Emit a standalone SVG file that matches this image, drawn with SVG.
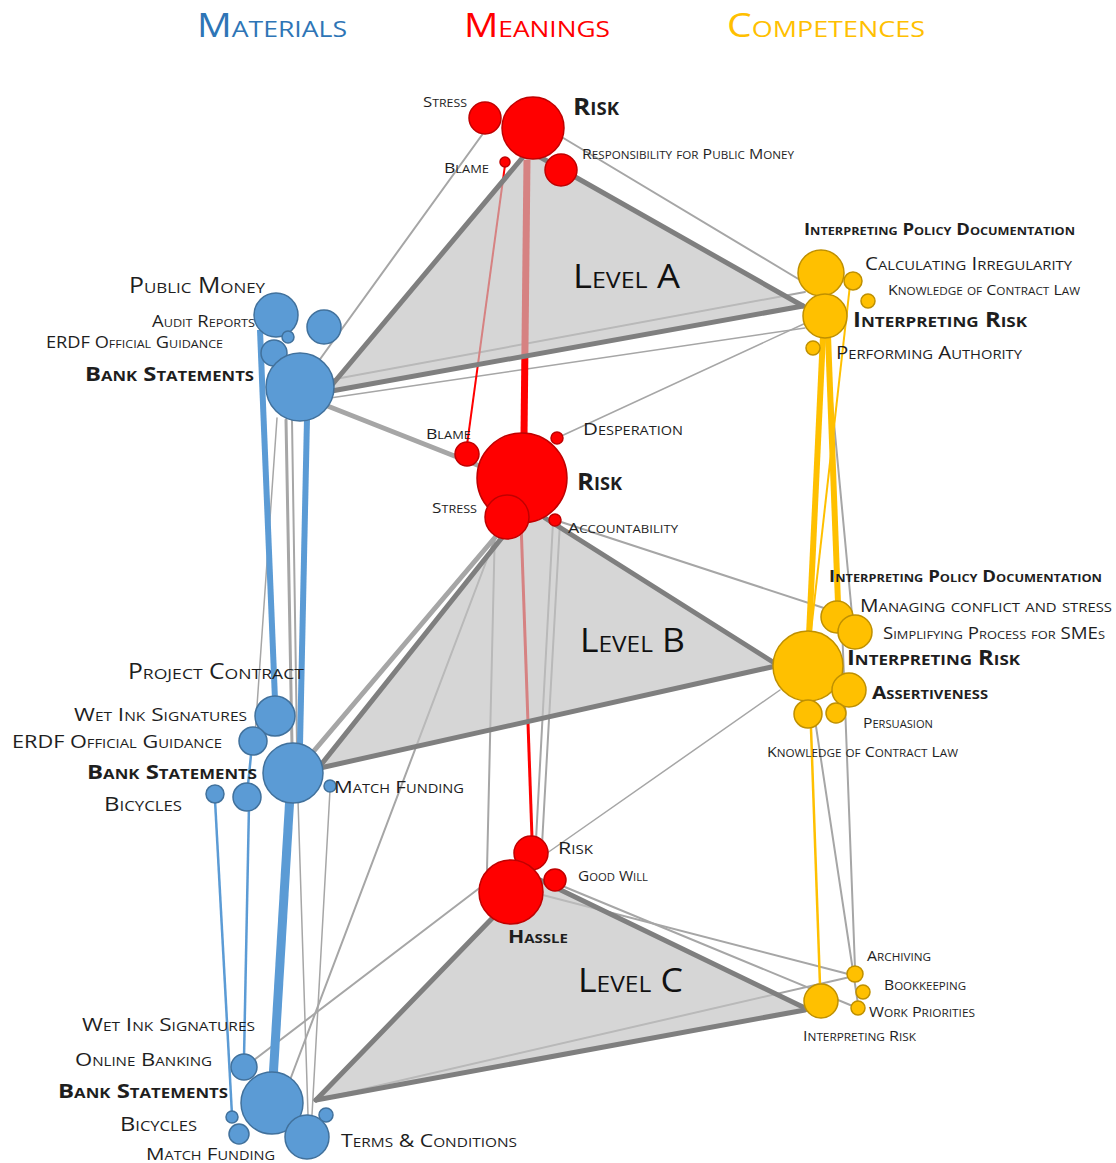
<svg xmlns="http://www.w3.org/2000/svg" width="1116" height="1163" viewBox="0 0 1116 1163">
<style>
text{font-family:"Open Sans","Liberation Sans",sans-serif;font-variant:small-caps;fill:#1e1e1e}
.b{font-weight:bold}
.hd{font-size:32px}
.lv{font-size:32px;fill:#111}
.bl{fill:#5b9bd5;stroke:#41719c;stroke-width:1.5}
.rd{fill:#ff0000;stroke:#c00000;stroke-width:1.5}
.yl{fill:#ffc000;stroke:#bf9000;stroke-width:1.5}
.lg{stroke:#a6a6a6;fill:none;stroke-linecap:round}
.dg{stroke:#7f7f7f;fill:none;stroke-linecap:round}
.bln{stroke:#5b9bd5;fill:none}
.rln{stroke:#ff0000;fill:none}
.yln{stroke:#ffc000;fill:none}
.tri{fill:#c2c2c2;fill-opacity:0.67;stroke:none}
</style>
<rect width="1116" height="1163" fill="#fff"/>

<g id="headers">
<text class="hd" x="197" y="37" textLength="150" lengthAdjust="spacingAndGlyphs" style="fill:#2e75b6">Materials</text>
<text class="hd" x="464" y="37" textLength="146" lengthAdjust="spacingAndGlyphs" style="fill:#ff0000">Meanings</text>
<text class="hd" x="727" y="37" textLength="198" lengthAdjust="spacingAndGlyphs" style="fill:#ffc000">Competences</text>
</g>

<g id="connectors">
<!-- gray lines -->
<line class="lg" stroke-width="2" x1="487" y1="128" x2="305" y2="380"/>
<line class="lg" stroke-width="2" x1="560" y1="136" x2="805" y2="283"/>
<line class="lg" stroke-width="2" x1="330" y1="380" x2="805" y2="292"/>
<line class="lg" stroke-width="1.5" x1="330" y1="398" x2="805" y2="328"/>
<line class="lg" stroke-width="1.5" x1="557" y1="438" x2="808" y2="322"/>
<line class="lg" stroke-width="5" x1="325" y1="405" x2="490" y2="470"/>
<line class="lg" stroke-width="2" x1="555" y1="520" x2="830" y2="610"/>
<line class="lg" stroke-width="1.5" x1="277" y1="418" x2="255" y2="735"/>
<line class="lg" stroke-width="3" x1="286" y1="420" x2="292" y2="745"/>
<line class="lg" stroke-width="2" x1="292" y1="420" x2="297" y2="745"/>
<line class="lg" stroke-width="1.5" x1="298" y1="800" x2="308" y2="1115"/>
<line class="lg" stroke-width="1.5" x1="330" y1="790" x2="312" y2="1115"/>
<line class="lg" stroke-width="2" x1="500" y1="525" x2="290" y2="1080"/>
<line class="lg" stroke-width="2" x1="495" y1="525" x2="487" y2="870"/>
<line class="lg" stroke-width="2" x1="553" y1="522" x2="536" y2="840"/>
<line class="lg" stroke-width="2" x1="560" y1="522" x2="542" y2="845"/>
<line class="lg" stroke-width="1.5" x1="780" y1="690" x2="540" y2="858"/>
<line class="lg" stroke-width="2" x1="826" y1="338" x2="853" y2="625"/>
<line class="lg" stroke-width="2" x1="842" y1="625" x2="855" y2="968"/>
<line class="lg" stroke-width="2" x1="812" y1="700" x2="858" y2="1004"/>
<line class="lg" stroke-width="2" x1="254" y1="1060" x2="490" y2="880"/>
<line class="lg" stroke-width="2" x1="535" y1="893" x2="852" y2="975"/>
<line class="lg" stroke-width="2" x1="560" y1="885" x2="855" y2="1007"/>
<line class="lg" stroke-width="2" x1="316" y1="1100" x2="850" y2="977"/>
<!-- red -->
<line class="rln" stroke-width="7" x1="527" y1="160" x2="524" y2="436"/>
<line class="rln" stroke-width="2" x1="505" y1="165" x2="467" y2="445"/>
<line class="rln" stroke-width="3" x1="521" y1="522" x2="532" y2="838"/>
<!-- yellow -->
<line class="yln" stroke-width="6" x1="823" y1="335" x2="809" y2="635"/>
<line class="yln" stroke-width="6" x1="828" y1="335" x2="838" y2="603"/>
<line class="yln" stroke-width="2" x1="850" y1="285" x2="810" y2="640"/>
<line class="yln" stroke-width="2.5" x1="810" y1="700" x2="820" y2="985"/>
<!-- blue -->
<line class="bln" stroke-width="6" x1="260" y1="330" x2="275" y2="700"/>
<line class="bln" stroke-width="6" x1="307" y1="418" x2="300" y2="745"/>
<line class="bln" stroke-width="9" x1="290" y1="795" x2="273" y2="1080"/>
<line class="bln" stroke-width="2.5" x1="215" y1="800" x2="232" y2="1115"/>
<line class="bln" stroke-width="2.5" x1="252" y1="745" x2="247" y2="795"/>
<line class="bln" stroke-width="2.5" x1="249" y1="805" x2="244" y2="1058"/>
</g>

<g id="triangles">
<polygon class="tri" points="523,157 540,157 803,306 326,392"/>
<polygon class="tri" points="512,525 545,518 776,664 320,768"/>
<polygon class="tri" points="505,905 540,880 805,1008 316,1100"/>
<line class="lg" stroke-width="5" x1="313" y1="752" x2="503" y2="528"/>
<g class="dg" stroke-width="5">
<line x1="326" y1="392" x2="523" y2="157"/>
<line x1="540" y1="157" x2="803" y2="306"/>
<line x1="326" y1="392" x2="803" y2="306"/>
<line x1="320" y1="766" x2="512" y2="525"/>
<line x1="545" y1="518" x2="776" y2="664"/>
<line x1="320" y1="768" x2="776" y2="666"/>
<line x1="316" y1="1100" x2="505" y2="905"/>
<line x1="540" y1="880" x2="805" y2="1008"/>
<line x1="316" y1="1100" x2="805" y2="1010"/>
</g>
<text class="lv" x="573" y="288" textLength="107" lengthAdjust="spacingAndGlyphs">Level A</text>
<text class="lv" x="580" y="652" textLength="105" lengthAdjust="spacingAndGlyphs">Level B</text>
<text class="lv" x="578" y="992" textLength="105" lengthAdjust="spacingAndGlyphs">Level C</text>
</g>

<!-- Meanings level A -->
<g id="m-a-stress"><circle class="rd" cx="485" cy="118" r="16"/><text x="423" y="107" font-size="15" textLength="44" lengthAdjust="spacingAndGlyphs">Stress</text></g>
<g id="m-a-risk"><circle class="rd" cx="533" cy="128" r="31"/><text class="b" x="573" y="115" font-size="24" textLength="46" lengthAdjust="spacingAndGlyphs">Risk</text></g>
<g id="m-a-blame"><circle class="rd" cx="505" cy="162" r="5"/><text x="444" y="173" font-size="15" textLength="45" lengthAdjust="spacingAndGlyphs">Blame</text></g>
<g id="m-a-resp"><circle class="rd" cx="561" cy="170" r="16"/><text x="582" y="159" font-size="15" textLength="212" lengthAdjust="spacingAndGlyphs">Responsibility for Public Money</text></g>

<!-- Competences level A -->
<g id="c-a-ipd"><circle class="yl" cx="821" cy="273" r="23"/><text class="b" x="804" y="235" font-size="16" textLength="271" lengthAdjust="spacingAndGlyphs">Interpreting  Policy Documentation</text></g>
<g id="c-a-calc"><circle class="yl" cx="853" cy="281" r="9"/><text x="865" y="270" font-size="18" textLength="207" lengthAdjust="spacingAndGlyphs">Calculating Irregularity</text></g>
<g id="c-a-kcl"><circle class="yl" cx="868" cy="301" r="7"/><text x="888" y="295" font-size="15" textLength="192" lengthAdjust="spacingAndGlyphs">Knowledge of Contract Law</text></g>
<g id="c-a-ir"><circle class="yl" cx="825" cy="316" r="22"/><text class="b" x="853" y="327" font-size="21" textLength="174" lengthAdjust="spacingAndGlyphs">Interpreting Risk</text></g>
<g id="c-a-pa"><circle class="yl" cx="813" cy="348" r="7"/><text x="836" y="359" font-size="18" textLength="186" lengthAdjust="spacingAndGlyphs">Performing Authority</text></g>

<!-- Materials level A -->
<g id="mat-a-pm"><circle class="bl" cx="276" cy="315" r="22"/><text x="129" y="293" font-size="22" textLength="136" lengthAdjust="spacingAndGlyphs">Public Money</text></g>
<g id="mat-a-ar"><circle class="bl" cx="288" cy="337" r="6"/><text x="152" y="327" font-size="16" textLength="103" lengthAdjust="spacingAndGlyphs">Audit Reports</text></g>
<g id="mat-a-x"><circle class="bl" cx="324" cy="327" r="17"/></g>
<g id="mat-a-erdf"><circle class="bl" cx="274" cy="353" r="13"/><text x="46" y="348" font-size="16" textLength="177" lengthAdjust="spacingAndGlyphs">ERDF Official Guidance</text></g>
<g id="mat-a-bs"><circle class="bl" cx="300" cy="387" r="34"/><text class="b" x="85" y="381" font-size="20" textLength="169" lengthAdjust="spacingAndGlyphs">Bank Statements</text></g>

<!-- Meanings level B -->
<g id="m-b-blame"><circle class="rd" cx="467" cy="454" r="12"/><text x="426" y="439" font-size="15" textLength="45" lengthAdjust="spacingAndGlyphs">Blame</text></g>
<g id="m-b-desp"><circle class="rd" cx="557" cy="438" r="6"/><text x="583" y="435" font-size="17" textLength="100" lengthAdjust="spacingAndGlyphs">Desperation</text></g>
<g id="m-b-risk"><circle class="rd" cx="522" cy="478" r="45"/><text class="b" x="577" y="490" font-size="24" textLength="45" lengthAdjust="spacingAndGlyphs">Risk</text></g>
<g id="m-b-stress"><circle class="rd" cx="507" cy="517" r="22"/><text x="432" y="513" font-size="15" textLength="45" lengthAdjust="spacingAndGlyphs">Stress</text></g>
<g id="m-b-acc"><circle class="rd" cx="555" cy="520" r="6"/><text x="568" y="533" font-size="15" textLength="110" lengthAdjust="spacingAndGlyphs">Accountability</text></g>

<!-- Competences level B -->
<g id="c-b-ipd"><text class="b" x="829" y="582" font-size="16" textLength="273" lengthAdjust="spacingAndGlyphs">Interpreting  Policy Documentation</text></g>
<g id="c-b-mcs"><circle class="yl" cx="837" cy="617" r="16"/><text x="860" y="612" font-size="18" textLength="252" lengthAdjust="spacingAndGlyphs">Managing conflict and stress</text></g>
<g id="c-b-sp"><circle class="yl" cx="855" cy="632" r="17"/><text x="883" y="639" font-size="16" textLength="222" lengthAdjust="spacingAndGlyphs">Simplifying Process for SMEs</text></g>
<g id="c-b-ir"><circle class="yl" cx="808" cy="666" r="35"/><text class="b" x="847" y="665" font-size="21" textLength="173" lengthAdjust="spacingAndGlyphs">Interpreting Risk</text></g>
<g id="c-b-as"><circle class="yl" cx="849" cy="690" r="17"/><text class="b" x="872" y="699" font-size="17" textLength="116" lengthAdjust="spacingAndGlyphs">Assertiveness</text></g>
<g id="c-b-kcl"><circle class="yl" cx="808" cy="714" r="14"/><text x="767" y="757" font-size="15" textLength="191" lengthAdjust="spacingAndGlyphs">Knowledge of Contract Law</text></g>
<g id="c-b-pe"><circle class="yl" cx="836" cy="713" r="10"/><text x="863" y="728" font-size="14" textLength="70" lengthAdjust="spacingAndGlyphs">Persuasion</text></g>

<!-- Materials level B -->
<g id="mat-b-pc"><text x="128" y="679" font-size="21" textLength="176" lengthAdjust="spacingAndGlyphs">Project Contract</text></g>
<g id="mat-b-wis"><circle class="bl" cx="275" cy="716" r="20"/><text x="74" y="721" font-size="19" textLength="173" lengthAdjust="spacingAndGlyphs">Wet Ink Signatures</text></g>
<g id="mat-b-erdf"><circle class="bl" cx="253" cy="741" r="14"/><text x="12" y="748" font-size="19" textLength="210" lengthAdjust="spacingAndGlyphs">ERDF Official Guidance</text></g>
<g id="mat-b-bs"><circle class="bl" cx="293" cy="773" r="30"/><text class="b" x="87" y="779" font-size="20" textLength="170" lengthAdjust="spacingAndGlyphs">Bank Statements</text></g>
<g id="mat-b-bi"><circle class="bl" cx="215" cy="794" r="9"/><circle class="bl" cx="247" cy="797" r="14"/><text x="104" y="811" font-size="20" textLength="78" lengthAdjust="spacingAndGlyphs">Bicycles</text></g>
<g id="mat-b-mf"><circle class="bl" cx="330" cy="786" r="6"/><text x="334" y="793" font-size="17" textLength="130" lengthAdjust="spacingAndGlyphs">Match Funding</text></g>

<!-- Meanings level C -->
<g id="m-c-risk"><circle class="rd" cx="531" cy="853" r="17"/><text x="558" y="854" font-size="17" textLength="35" lengthAdjust="spacingAndGlyphs">Risk</text></g>
<g id="m-c-gw"><circle class="rd" cx="555" cy="880" r="11"/><text x="578" y="881" font-size="15" textLength="70" lengthAdjust="spacingAndGlyphs">Good Will</text></g>
<g id="m-c-hassle"><circle class="rd" cx="511" cy="892" r="32"/><text class="b" x="508" y="943" font-size="17" textLength="60" lengthAdjust="spacingAndGlyphs">Hassle</text></g>

<!-- Competences level C -->
<g id="c-c-arch"><circle class="yl" cx="855" cy="974" r="8"/><text x="867" y="961" font-size="15" textLength="64" lengthAdjust="spacingAndGlyphs">Archiving</text></g>
<g id="c-c-book"><circle class="yl" cx="863" cy="992" r="7"/><text x="884" y="990" font-size="15" textLength="82" lengthAdjust="spacingAndGlyphs">Bookkeeping</text></g>
<g id="c-c-wp"><circle class="yl" cx="858" cy="1008" r="7"/><text x="869" y="1017" font-size="15" textLength="106" lengthAdjust="spacingAndGlyphs">Work Priorities</text></g>
<g id="c-c-ir"><circle class="yl" cx="821" cy="1001" r="17"/><text x="803" y="1041" font-size="15" textLength="113" lengthAdjust="spacingAndGlyphs">Interpreting  Risk</text></g>

<!-- Materials level C -->
<g id="mat-c-wis"><text x="82" y="1031" font-size="19" textLength="173" lengthAdjust="spacingAndGlyphs">Wet Ink Signatures</text></g>
<g id="mat-c-ob"><circle class="bl" cx="244" cy="1067" r="13"/><text x="75" y="1066" font-size="19" textLength="137" lengthAdjust="spacingAndGlyphs">Online Banking</text></g>
<g id="mat-c-bs"><circle class="bl" cx="272" cy="1103" r="31"/><text class="b" x="58" y="1098" font-size="20" textLength="170" lengthAdjust="spacingAndGlyphs">Bank Statements</text></g>
<g id="mat-c-x"><circle class="bl" cx="326" cy="1115" r="7"/></g>
<g id="mat-c-tc"><circle class="bl" cx="307" cy="1137" r="22"/><text x="341" y="1147" font-size="18" textLength="176" lengthAdjust="spacingAndGlyphs">Terms &amp; Conditions</text></g>
<g id="mat-c-bi"><circle class="bl" cx="232" cy="1117" r="6"/><text x="120" y="1131" font-size="20" textLength="77" lengthAdjust="spacingAndGlyphs">Bicycles</text></g>
<g id="mat-c-mf"><circle class="bl" cx="239" cy="1134" r="10"/><text x="146" y="1160" font-size="17" textLength="129" lengthAdjust="spacingAndGlyphs">Match Funding</text></g>
</svg>
